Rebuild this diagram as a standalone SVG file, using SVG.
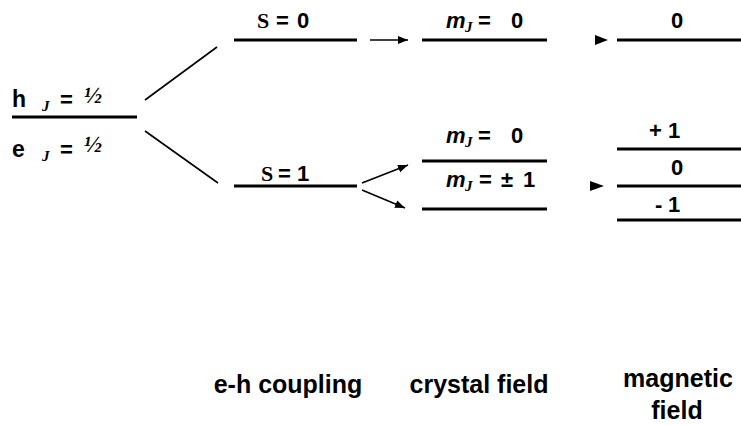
<svg xmlns="http://www.w3.org/2000/svg" width="741" height="425" viewBox="0 0 741 425">
<defs>
<style>
.lvl{stroke:#000;stroke-width:3.2;fill:none}
.thin{stroke:#000;stroke-width:1.6;fill:none}
.t{font-family:"Liberation Sans",Arial,sans-serif;font-weight:bold;font-size:22px;fill:#000}
.big{font-size:23px}
.s{font-family:"Liberation Serif","Times New Roman",serif;font-weight:bold;font-size:22px}
.m{font-style:italic}
.j{font-family:"Liberation Serif","Times New Roman",serif;font-style:italic;font-weight:bold;font-size:15px}
.f{font-family:"Liberation Serif","Times New Roman",serif;font-style:italic;font-weight:bold;font-size:24px}
.lab{font-family:"Liberation Sans",Arial,sans-serif;font-weight:bold;font-size:25px;fill:#000;text-anchor:middle}
</style>
<marker id="ah" viewBox="0 0 10 10" refX="10" refY="5" markerWidth="10" markerHeight="10" markerUnits="userSpaceOnUse" orient="auto">
<path d="M0,1 L10,5 L0,9 Z" fill="#000"/>
</marker>
</defs>
<rect width="741" height="425" fill="#fff"/>
<g id="exciton">
<line class="lvl" x1="12" y1="117" x2="137" y2="117"/>
<text class="t" y="107"><tspan class="big" x="12">h</tspan><tspan class="j" x="42" y="111">J</tspan><tspan x="60" y="107">=</tspan><tspan class="f" x="84" y="103">½</tspan></text>
<text class="t" y="157"><tspan class="big" x="12">e</tspan><tspan class="j" x="42" y="161">J</tspan><tspan x="60" y="157">=</tspan><tspan class="f" x="84" y="152">½</tspan></text>
</g>
<g id="s0">
<line class="lvl" x1="234" y1="40" x2="357" y2="40"/>
<text class="t" y="28"><tspan class="s" x="257">S</tspan><tspan x="276">=</tspan><tspan x="297">0</tspan></text>
</g>
<g id="s1">
<line class="lvl" x1="234" y1="186" x2="357" y2="186"/>
<text class="t" y="181"><tspan class="s" x="261">S</tspan><tspan x="278">=</tspan><tspan x="297">1</tspan></text>
</g>
<g id="cf0">
<line class="lvl" x1="422" y1="40" x2="547" y2="40"/>
<text class="t" y="28"><tspan class="m" x="446">m</tspan><tspan class="j" x="465" y="32">J</tspan><tspan x="478" y="28">=</tspan><tspan x="511">0</tspan></text>
</g>
<g id="cf1">
<line class="lvl" x1="422" y1="161" x2="547" y2="161"/>
<text class="t" y="143"><tspan class="m" x="446">m</tspan><tspan class="j" x="465" y="147">J</tspan><tspan x="478" y="143">=</tspan><tspan x="511">0</tspan></text>
</g>
<g id="cf2">
<line class="lvl" x1="422" y1="209" x2="547" y2="209"/>
<text class="t" y="187"><tspan class="m" x="446">m</tspan><tspan class="j" x="465" y="191">J</tspan><tspan x="479" y="187">=</tspan><tspan x="501">±</tspan><tspan x="523">1</tspan></text>
</g>
<g id="mf0">
<line class="lvl" x1="617" y1="40" x2="741" y2="40"/>
<text class="t" x="671" y="28">0</text>
</g>
<g id="mfp">
<line class="lvl" x1="617" y1="149" x2="741" y2="149"/>
<text class="t" y="138"><tspan x="649">+</tspan><tspan x="668">1</tspan></text>
</g>
<g id="mfz">
<line class="lvl" x1="617" y1="186" x2="741" y2="186"/>
<text class="t" x="671" y="175">0</text>
</g>
<g id="mfm">
<line class="lvl" x1="617" y1="220" x2="741" y2="220"/>
<text class="t" y="212"><tspan x="655">-</tspan><tspan x="668">1</tspan></text>
</g>
<g id="connectors">
<line class="thin" x1="145" y1="100" x2="217" y2="47"/>
<line class="thin" x1="145" y1="131" x2="218" y2="183"/>
<line class="thin" x1="370" y1="40" x2="408" y2="40" marker-end="url(#ah)"/>
<line class="thin" x1="362" y1="183" x2="408" y2="165" marker-end="url(#ah)"/>
<line class="thin" x1="362" y1="190" x2="405" y2="208" marker-end="url(#ah)"/>
<path d="M595,35 L608,40 L595,45 Z" fill="#000"/>
<path d="M590,181 L604,186 L590,191 Z" fill="#000"/>
</g>
<g id="labels">
<text class="lab" x="288" y="393">e-h coupling</text>
<text class="lab" x="479" y="393">crystal field</text>
<text class="lab" x="678" y="387">magnetic</text>
<text class="lab" x="677" y="419">field</text>
</g>
</svg>
